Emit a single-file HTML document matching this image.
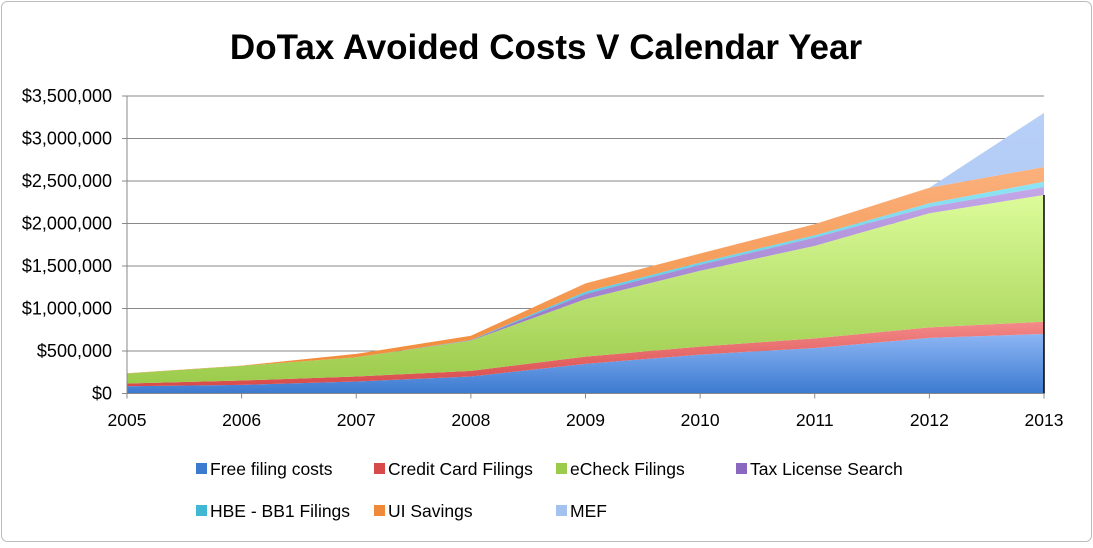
<!DOCTYPE html>
<html><head><meta charset="utf-8"><style>
body{margin:0;background:#fff;font-family:"Liberation Sans",Arial,sans-serif}
svg text{font-family:"Liberation Sans",Arial,sans-serif}
</style></head><body>
<svg id="chart" width="1093" height="543" viewBox="0 0 1093 543">
<defs>
<linearGradient id="gBlue" x1="0" y1="0" x2="0" y2="1"><stop offset="0" stop-color="#8db6f4"/><stop offset="1" stop-color="#3c7ad0"/></linearGradient>
<linearGradient id="gRed" x1="0" y1="0" x2="0" y2="1"><stop offset="0" stop-color="#f48a8a"/><stop offset="1" stop-color="#d84a4a"/></linearGradient>
<linearGradient id="gGreen" x1="0" y1="0" x2="0" y2="1"><stop offset="0" stop-color="#dcfc9a"/><stop offset="1" stop-color="#9ccb4c"/></linearGradient>
<linearGradient id="gPurple" x1="0" y1="0" x2="0" y2="1"><stop offset="0" stop-color="#c4a8e8"/><stop offset="1" stop-color="#8a68c0"/></linearGradient>
<linearGradient id="gCyan" x1="0" y1="0" x2="0" y2="1"><stop offset="0" stop-color="#8ee4f4"/><stop offset="1" stop-color="#40b8d4"/></linearGradient>
<linearGradient id="gOrange" x1="0" y1="0" x2="0" y2="1"><stop offset="0" stop-color="#fbb07c"/><stop offset="1" stop-color="#f08a38"/></linearGradient>
<linearGradient id="gMef" x1="0" y1="0" x2="0" y2="1"><stop offset="0" stop-color="#b8d0f8"/><stop offset="1" stop-color="#a4c2f0"/></linearGradient>
</defs>
<rect x="1.5" y="1.5" width="1090" height="540" rx="6" fill="#fff" stroke="#bbb"/>
<text x="546" y="59" text-anchor="middle" font-size="35" font-weight="bold" fill="#000">DoTax Avoided Costs V Calendar Year</text>
<g id="grid"></g>
<g id="areas"></g>
<g id="axes"></g>
<g id="legend"></g>
</svg>
<script>
const years = ["2005","2006","2007","2008","2009","2010","2011","2012","2013"];
const freeFiling = [86000,102000,141000,200000,349000,458000,536000,654000,701000];
const creditCard = [31000,51000,59000,66000,85000,94000,113000,124000,144000];
const eCheck = [118000,172000,226000,356000,677000,892000,1088000,1343000,1491000];
const taxLicense = [0,0,0,5000,59000,70000,98000,74000,94000];
const hbe = [0,0,0,2000,27000,27000,27000,43000,62000];
const uiSavings = [3000,3000,40000,50000,98000,106000,130000,183000,172000];
const mef = [0,0,0,0,0,0,0,0,638000];
const yTicks = [0,500000,1000000,1500000,2000000,2500000,3000000,3500000];
const seriesNames = ["Free filing costs","Credit Card Filings","eCheck Filings","Tax License Search","HBE - BB1 Filings","UI Savings","MEF"];

const NS="http://www.w3.org/2000/svg";
const X0=127,X1=1044,Y0=393.5,YT=96;
const xS=i=>X0+(X1-X0)*i/(years.length-1);
const yS=v=>Y0-(Y0-YT)*v/3500000;
function mk(tag,attrs,parent){const e=document.createElementNS(NS,tag);for(const k in attrs)e.setAttribute(k,attrs[k]);parent.appendChild(e);return e;}
const grid=document.getElementById('grid'),areas=document.getElementById('areas'),axes=document.getElementById('axes'),legend=document.getElementById('legend');
yTicks.forEach(t=>{
  if(t>0){const l=mk('line',{x1:X0,x2:X1,y1:yS(t),y2:yS(t),stroke:'#888','stroke-width':1},grid);
  
  }
  const tk=mk('line',{x1:X0-5,x2:X0,y1:yS(t),y2:yS(t),stroke:'#888'},axes);
  
  
  const tx=mk('text',{x:X0-15,y:yS(t)+6,'text-anchor':'end','font-size':18,fill:'#000'},axes);
  tx.textContent='$'+t.toLocaleString('en-US');
  
  
});
const series=[freeFiling,creditCard,eCheck,taxLicense,hbe,uiSavings,mef];
const fills=['url(#gBlue)','url(#gRed)','url(#gGreen)','url(#gPurple)','url(#gCyan)','url(#gOrange)','url(#gMef)'];
const sw=['#3c7ad0','#d84a4a','#9ccb4c','#8a68c0','#40b8d4','#f08a38','#a4c2f0'];
const names=['area-free-filing','area-credit-card','area-echeck','area-tax-license','area-hbe','area-ui-savings','area-mef'];
let base=years.map(()=>0);
series.forEach((s,k)=>{
  const top=base.map((b,i)=>b+s[i]);
  let d='M'+years.map((_,i)=>xS(i)+','+yS(top[i])).join(' L');
  for(let i=years.length-1;i>=0;i--)d+=' L'+xS(i)+','+yS(base[i]);
  d+='Z';
  const p=mk('path',{d:d,fill:fills[k]},areas);
  
  
  base=top;
});
const edge=mk('line',{x1:X1,x2:X1,y1:yS(freeFiling[8]+creditCard[8]+eCheck[8]),y2:Y0,stroke:'#000','stroke-width':1.5},axes);


const ya=mk('line',{x1:X0,x2:X0,y1:YT,y2:Y0,stroke:'#888'},axes);


const xa=mk('line',{x1:X0,x2:X1,y1:Y0,y2:Y0,stroke:'#888'},axes);


years.forEach((y,i)=>{
  const tk=mk('line',{x1:xS(i),x2:xS(i),y1:Y0,y2:Y0+5,stroke:'#888'},axes);
  
  
  const t=mk('text',{x:xS(i),y:426,'text-anchor':'middle','font-size':17.5,fill:'#000'},axes);
  t.textContent=y;
  
  
});
const lx=[196,374,556,736,196,374,556],ly=[469,469,469,469,511,511,511];
seriesNames.forEach((n,k)=>{
  const g=mk('g',{},legend);
  
  
  mk('rect',{x:lx[k],y:ly[k]-6,width:11,height:11,fill:sw[k]},g);
  const t=mk('text',{x:lx[k]+14,y:ly[k]+6,'font-size':17.5,fill:'#000'},g);
  t.textContent=n;
});
</script>
</body></html>
